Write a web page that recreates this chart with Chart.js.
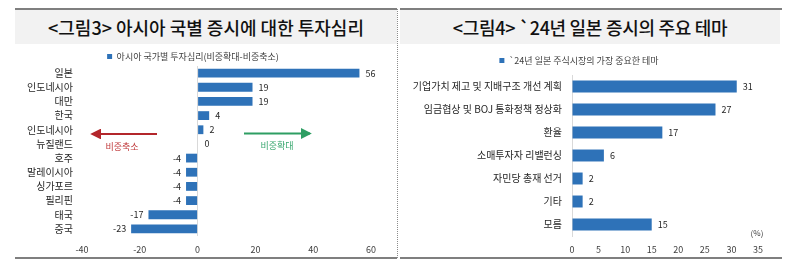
<!DOCTYPE html>
<html><head><meta charset="utf-8">
<script src="https://cdn.jsdelivr.net/npm/chart.js@4/dist/chart.umd.min.js"></script>
<style>
html,body{margin:0;padding:0;background:#fff;width:800px;height:262px;overflow:hidden;font-family:"Noto Sans CJK KR","Noto Sans",sans-serif;}
.abs{position:absolute;}
.topline{height:2px;background:#7f7f7f;}
.title{background:#f2f2f2;text-align:center;font-size:18px;line-height:34px;color:#111;font-weight:500;letter-spacing:0px;}
canvas{position:absolute;}
</style></head><body>
<div class="abs topline" style="left:15px;top:8px;width:382px;"></div>
<div class="abs topline" style="left:400px;top:8px;width:382px;"></div>
<div class="abs title" style="left:15px;top:10px;width:382px;height:34px;">&lt;그림3&gt; 아시아 국별 증시에 대한 투자심리</div>
<div class="abs title" style="left:400px;top:10px;width:380px;height:34px;letter-spacing:-0.3px;">&lt;그림4&gt; `24년 일본 증시의 주요 테마</div>
<div class="abs topline" style="left:15px;top:257px;width:382px;"></div>
<div class="abs topline" style="left:400px;top:257px;width:382px;"></div>
<div class="abs" style="left:397px;top:9px;width:0;height:249px;border-left:1px dotted #8c8c8c;"></div>

<canvas id="c1" width="382" height="210" style="left:15px;top:46px;"></canvas>
<canvas id="c2" width="382" height="210" style="left:400px;top:46px;"></canvas>

<svg class="abs" style="left:0;top:0;" width="800" height="262">
  <defs>
    <marker id="ar" markerWidth="6" markerHeight="6" refX="5" refY="3" orient="auto"><path d="M0,0 L6,3 L0,6 z" fill="#b3262b"/></marker>
    <marker id="ag" markerWidth="6" markerHeight="6" refX="5" refY="3" orient="auto"><path d="M0,0 L6,3 L0,6 z" fill="#2e9e63"/></marker>
  </defs>
  <line x1="157" y1="134" x2="92" y2="134" stroke="#b3262b" stroke-width="1.8" marker-end="url(#ar)"/>
  <line x1="244" y1="133.5" x2="310" y2="133.5" stroke="#2e9e63" stroke-width="1.8" marker-end="url(#ag)"/>
  <text x="122" y="150" text-anchor="middle" font-size="9" fill="#c0393b" font-family="Noto Sans CJK KR">비중축소</text>
  <text x="277" y="149" text-anchor="middle" font-size="9" fill="#3aa870" font-family="Noto Sans CJK KR">비중확대</text>
  <text x="757" y="236" text-anchor="middle" font-size="8" fill="#404040" font-family="Noto Sans CJK KR">(%)</text>
</svg>

<script>
// ---- data ----
const countries = ['일본','인도네시아','대만','한국','인도네시아','뉴질랜드','호주','말레이시아','싱가포르','필리핀','태국','중국'];
const sentiment = [56,19,19,4,2,0,-4,-4,-4,-4,-17,-23];
const sentimentLabel = '아시아 국가별 투자심리(비중확대-비중축소)';
const sentimentTicks = [-40,-20,0,20,40,60];

const themes = ['기업가치 제고 및 지배구조 개선 계획','임금협상 및 BOJ 통화정책 정상화','환율','소매투자자 리밸런싱','자민당 총재 선거','기타','모름'];
const themeValues = [31,27,17,6,2,2,15];
const themeLabel = '`24년 일본 주식시장의 가장 중요한 테마';
const themeTicks = [0,5,10,15,20,25,30,35];

const BLUE = '#2e72b8';
const FONT = '"Noto Sans CJK KR","Noto Sans",sans-serif';

const valueLabels = {
  id:'valueLabels',
  afterDatasetsDraw(chart){
    const ctx = chart.ctx;
    const meta = chart.getDatasetMeta(0);
    const data = chart.data.datasets[0].data;
    ctx.save();
    ctx.font = '9px ' + FONT;
    ctx.fillStyle = '#262626';
    ctx.textBaseline = 'middle';
    meta.data.forEach((bar,i)=>{
      const v = data[i];
      if (v < 0){ ctx.textAlign='right'; ctx.fillText(String(v), bar.x-5, bar.y); }
      else if (v === 0){ ctx.textAlign='left'; ctx.fillText(String(v), bar.x+7, bar.y); }
      else { ctx.textAlign='left'; ctx.fillText(String(v), bar.x+6, bar.y); }
    });
    ctx.restore();
  }
};

function legendHeight(h){
  return { id:'legendH', beforeInit(chart){
    const fit = chart.legend.fit;
    chart.legend.fit = function(){ fit.call(this); this.height = h; };
  }};
}

function makeChart(id, labels, values, dsLabel, ticks, opts){
  return new Chart(document.getElementById(id), {
    type:'bar',
    data:{ labels, datasets:[{ label:dsLabel, data:values, backgroundColor:BLUE, borderWidth:0,
      barPercentage:opts.bp, categoryPercentage:1 }]},
    options:{
      indexAxis:'y', responsive:false, animation:false, devicePixelRatio:1,
      layout:{ padding:{ left:0, right:opts.padRight, top:0, bottom:0 } },
      plugins:{
        legend:{ display:true, position:'top', labels:{ boxWidth:5, boxHeight:5, padding:opts.legPad, color:'#404040', font:{ size:9, family:FONT } } },
        tooltip:{ enabled:false }
      },
      scales:{
        x:{ min:ticks[0], max:ticks[ticks.length-1],
          afterBuildTicks(s){ s.ticks = ticks.map(v=>({value:v})); },
          afterFit(s){ s.height = opts.xh; },
          grid:{ drawTicks:false, drawOnChartArea:opts.zeroLine, color:(c)=> (c.tick && c.tick.value===0) ? '#d9d9d9' : 'rgba(0,0,0,0)', lineWidth:1 },
          border:{ display:false },
          ticks:{ color:'#404040', font:{ size:9, family:FONT }, padding:opts.xpad, maxRotation:0, autoSkip:false }
        },
        y:{
          afterFit(s){ s.width = opts.yw; },
          grid:{ display:false, drawTicks:false },
          border:{ display:opts.yBorder, color:'#d9d9d9' },
          ticks:{ color:'#262626', font:{ size:10, family:FONT }, padding:opts.ypad, autoSkip:false }
        }
      }
    },
    plugins:[valueLabels, legendHeight(opts.legendH)]
  });
}

makeChart('c1', countries, sentiment, sentimentLabel, sentimentTicks,
  { bp:0.62, padRight:26, xh:20, xpad:8, yw:67, ypad:9, yBorder:false, zeroLine:true, legendH:20, legPad:6 });
makeChart('c2', themes, themeValues, themeLabel, themeTicks,
  { bp:0.52, padRight:24, xh:20, xpad:8, yw:172, ypad:10, yBorder:true, zeroLine:false, legendH:29, legPad:10 });
</script>
</body></html>
